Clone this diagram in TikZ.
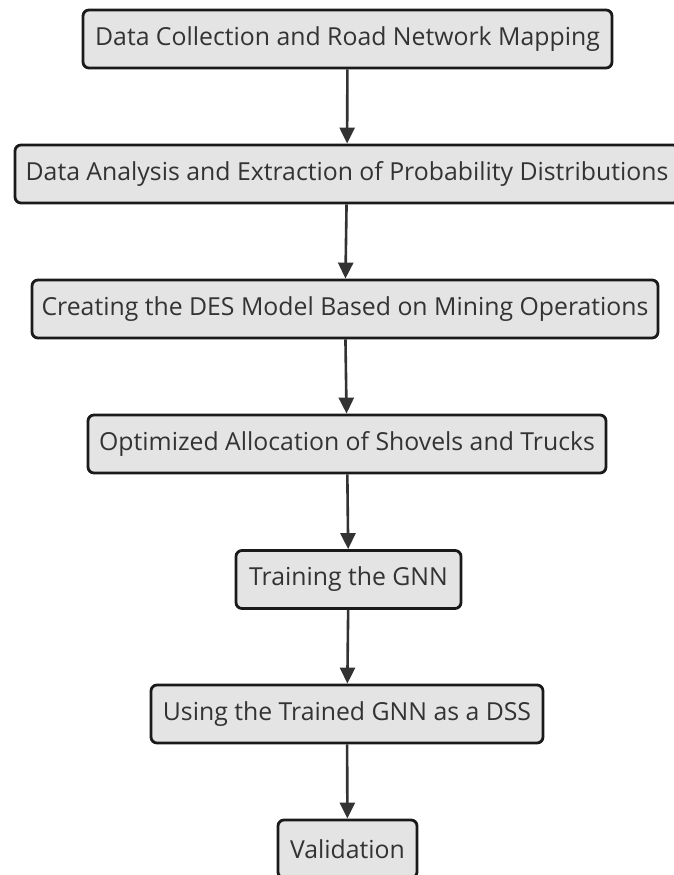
\documentclass[tikz,border=0pt]{standalone}
\usepackage{fontspec}
\setmainfont{Open Sans}
\usetikzlibrary{arrows.meta}
\definecolor{boxfill}{HTML}{E4E4E4}
\definecolor{boxline}{HTML}{1A1A1A}
\definecolor{txt}{HTML}{333333}
\definecolor{arr}{HTML}{333333}
\begin{document}
\begin{tikzpicture}[x=1pt,y=-1pt,
  stepbox/.style={draw=boxline,fill=boxfill,line width=2.8pt,rounded corners=6pt,
    minimum height=58pt,inner sep=0pt,text=txt,font=\fontsize{24.8}{29}\selectfont,anchor=center},
  flow/.style={draw=arr,line width=2.6pt,-{Triangle[width=15pt,length=16pt]}}]
\useasboundingbox (0,0) rectangle (673,875);
\fill[white] (0,0) rectangle (673,875);
\node[stepbox,minimum width=529pt] (b1) at (347.5,39) {Data Collection and Road Network Mapping};
\node[stepbox,minimum width=664pt] (b2) at (347,174) {Data Analysis and Extraction of Probability Distributions};
\node[stepbox,minimum width=626pt] (b3) at (345,309) {Creating the DES Model Based on Mining Operations};
\node[stepbox,minimum width=518pt] (b4) at (347,444) {Optimized Allocation of Shovels and Trucks};
\node[stepbox,minimum width=225pt] (b5) at (348.5,579.5) {Training the GNN};
\node[stepbox,minimum width=392pt] (b6) at (347,714) {Using the Trained GNN as a DSS};
\node[stepbox,minimum width=139pt] (b7) at (347.5,849) {Validation};
\draw[flow] (b1) -- (b2);
\draw[flow] (b2) -- (b3);
\draw[flow] (b3) -- (b4);
\draw[flow] (b4) -- (b5);
\draw[flow] (b5) -- (b6);
\draw[flow] (b6) -- (b7);
\end{tikzpicture}
\end{document}
